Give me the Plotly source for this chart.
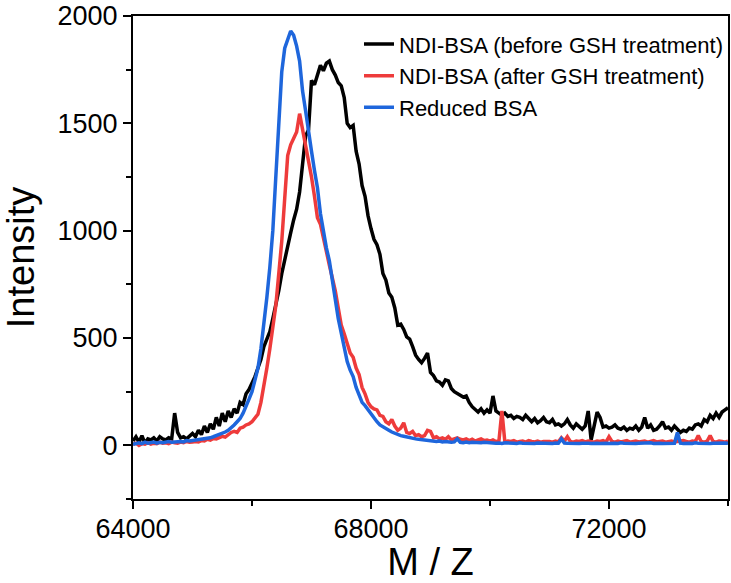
import plotly.graph_objects as go

# m/z grid (step 50 Da)
mz = [64000 + 50 * i for i in range(201)]

before_gsh = [
    20, 40, 15, 45, 10, 30, 25, 35, 20, 40, 30, 25, 35, 30, 150, 60, 35, 40, 30, 45,
    55, 40, 70, 50, 90, 60, 100, 75, 130, 90, 150, 110, 160, 130, 170, 150, 200, 190, 240, 260,
    290, 320, 360, 400, 460, 500, 530, 590, 650, 720, 800, 870, 930, 990, 1050, 1100, 1180, 1320, 1440, 1470,
    1700, 1680, 1730, 1770, 1745, 1780, 1790, 1750, 1725, 1690, 1675, 1620, 1500, 1480, 1490, 1370, 1310, 1210, 1160, 1070,
    1010, 960, 935, 890, 800, 770, 710, 690, 640, 560, 565, 540, 505, 495, 460, 420, 400, 385, 405, 430,
    340, 325, 300, 295, 280, 305, 300, 265, 250, 240, 235, 225, 230, 200, 180, 165, 155, 170, 150, 165,
    150, 230, 160, 150, 140, 150, 135, 140, 125, 135, 130, 120, 140, 125, 110, 125, 105, 115, 130, 110,
    105, 120, 95, 100, 90, 100, 120, 95, 80, 100, 85, 75, 90, 160, 25, 100, 155, 130, 85, 90,
    80, 85, 95, 80, 75, 85, 70, 80, 75, 90, 70, 85, 130, 80, 95, 70, 75, 90, 110, 80,
    85, 70, 90, 75, 60, 70, 65, 80, 75, 95, 100, 90, 120, 110, 140, 125, 150, 130, 155, 165,
    175,
]

after_gsh = [
    5, 10, 0, 8, 5, 12, 6, 10, 8, 15, 10, 12, 8, 15, 12, 10, 15, 12, 18, 14,
    15, 18, 16, 22, 20, 28, 24, 32, 30, 38, 42, 38, 50, 60, 65, 60, 80, 85, 95, 100,
    110, 125, 145, 200, 270, 360, 450, 560, 650, 800, 950, 1150, 1350, 1400, 1430, 1460, 1545, 1470, 1410, 1320,
    1250, 1160, 1060, 1030, 960, 900, 840, 780, 720, 640, 560, 520, 470, 430, 410, 360, 330, 270, 240, 200,
    180, 170, 165, 140, 135, 110, 100, 120, 90, 70, 80, 105, 60, 55, 65, 45, 50, 40, 45, 70,
    65, 35, 40, 30, 35, 28, 40, 25, 30, 35, 28, 25, 30, 22, 28, 20, 25, 30, 22, 25,
    20, 25, 18, 20, 160, 15, 20, 18, 22, 15, 18, 20, 15, 22, 18, 16, 20, 15, 18, 20,
    18, 15, 20, 16, 35, 20, 40, 18, 15, 20, 18, 22, 16, 20, 18, 15, 20, 18, 22, 15,
    40, 18, 15, 20, 16, 18, 22, 15, 18, 20, 16, 18, 20, 15, 18, 22, 16, 18, 20, 15,
    18, 20, 16, 18, 20, 22, 18, 15, 20, 18, 45, 18, 15, 20, 45, 18, 15, 20, 18, 15,
    20,
]

reduced_bsa = [
    5, 8, 12, 8, 15, 10, 12, 15, 10, 14, 12, 15, 18, 14, 16, 20, 18, 16, 22, 20,
    22, 25, 24, 28, 30, 32, 35, 40, 45, 50, 55, 62, 70, 80, 95, 110, 125, 150, 180, 215,
    250, 300, 360, 450, 560, 690, 830, 1000, 1250, 1500, 1740, 1850, 1890, 1930, 1910, 1860, 1790, 1650, 1560, 1450,
    1370, 1280, 1200, 1080, 990, 920, 860, 760, 680, 590, 520, 450, 390, 350, 320, 270, 235, 200, 185, 165,
    150, 130, 110, 95, 85, 75, 70, 62, 55, 50, 45, 42, 38, 35, 32, 30, 28, 26, 25, 22,
    22, 20, 18, 20, 16, 18, 15, 14, 16, 30, 14, 12, 15, 12, 14, 12, 13, 12, 14, 12,
    10, 12, 10, 11, 9, 12, 10, 11, 10, 9, 12, 10, 9, 11, 10, 9, 11, 10, 12, 9,
    10, 9, 11, 10, 30, 11, 10, 9, 11, 10, 9, 10, 12, 10, 9, 11, 10, 9, 11, 10,
    9, 11, 10, 9, 12, 10, 9, 11, 10, 9, 10, 11, 9, 10, 12, 9, 11, 10, 9, 10,
    11, 9, 10, 60, 10, 9, 11, 10, 9, 12, 10, 9, 11, 10, 9, 10, 11, 9, 10, 11,
    10,
]

series_names = [
    "NDI-BSA (before GSH treatment)",
    "NDI-BSA (after GSH treatment)",
    "Reduced BSA",
]
series_colors = ["#000000", "#EE3B3B", "#1E66DC"]

FONT = "Liberation Sans, Arial, sans-serif"

fig = go.Figure()
for name, ys, col in zip(series_names, [before_gsh, after_gsh, reduced_bsa], series_colors):
    fig.add_trace(go.Scatter(x=mz, y=ys, mode="lines", name=name,
                             line=dict(color=col, width=3.5)))

axis_common = dict(
    showgrid=False, zeroline=False, showline=True, linecolor="black", linewidth=2,
    mirror=True, ticks="outside", ticklen=8, tickwidth=2, tickcolor="black",
    tickfont=dict(family=FONT, size=27, color="black"), tickformat="d",
    automargin=False,
)

fig.update_layout(
    template="none",
    width=731, height=583,
    margin=dict(l=133, r=3, t=16, b=84),
    paper_bgcolor="white", plot_bgcolor="white",
    font=dict(family=FONT, color="black"),
    showlegend=True,
    legend=dict(x=1, xanchor="right", y=0.985, yanchor="top",
                bgcolor="rgba(255,255,255,0)", font=dict(family=FONT, size=22, color="black"),
                borderwidth=0),
    xaxis=dict(range=[64000, 74000], tick0=64000, dtick=4000, ticklabelstandoff=-3,
               minor=dict(dtick=2000, ticks="outside", ticklen=5, tickwidth=2, tickcolor="black"),
               title=dict(text="M / Z", font=dict(family=FONT, size=38, color="black")),
               **axis_common),
    yaxis=dict(range=[-250, 2000], tick0=0, dtick=500,
               minor=dict(dtick=250, ticks="outside", ticklen=5, tickwidth=2, tickcolor="black"),
               title=dict(text="Intensity", font=dict(family=FONT, size=38, color="black"), standoff=20),
               **axis_common),
)

fig.write_html("out.html")
